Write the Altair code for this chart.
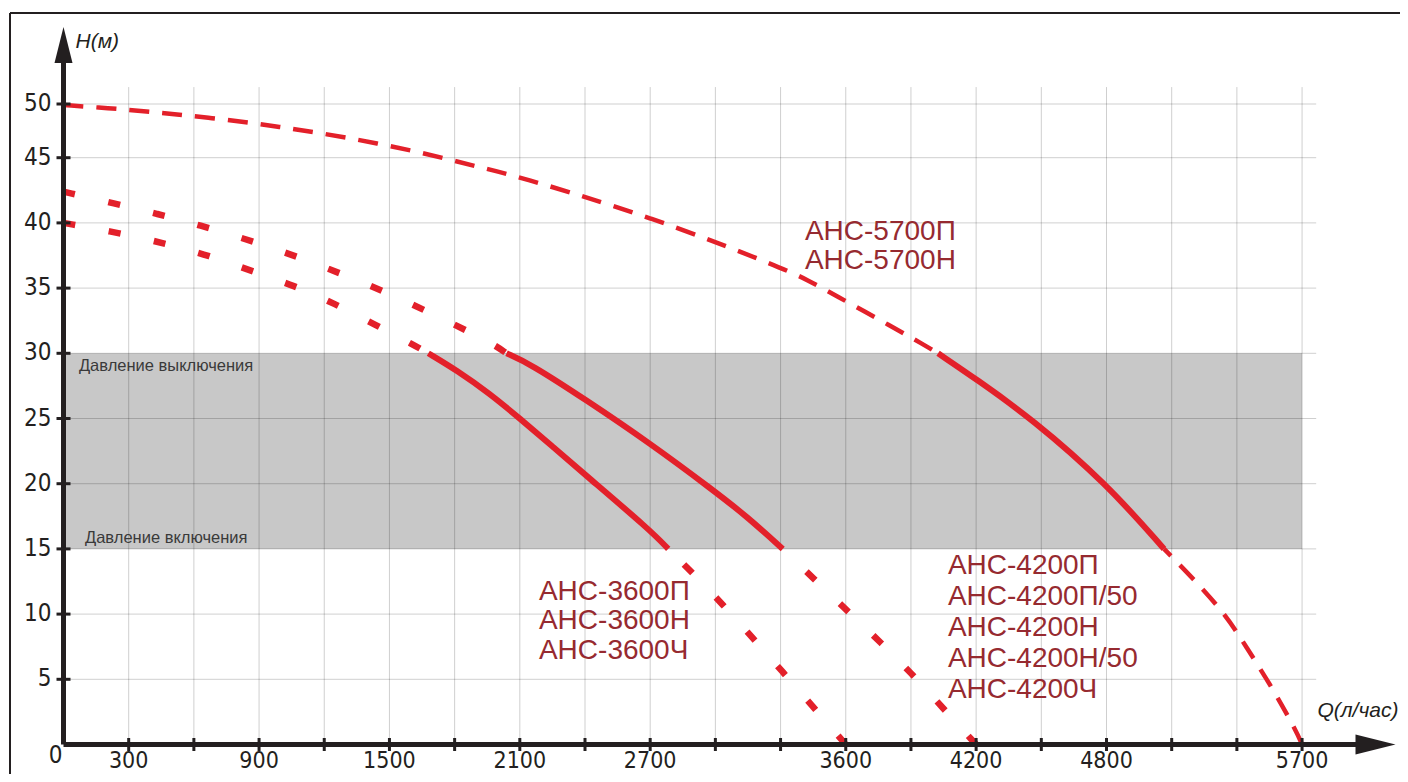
import altair as alt
import pandas as pd

# ---------------- data ----------------
X_TICKS = [300, 600, 900, 1200, 1500, 1800, 2100, 2400, 2700, 3000, 3300,
           3600, 3900, 4200, 4500, 4800, 5100, 5400, 5700]
X_LABELS = [300, 900, 1500, 2100, 2700, 3600, 4200, 4800, 5700]
Y_TICKS = [5, 10, 15, 20, 25, 30, 35, 40, 45, 50]

PRESSURE_ON = 15
PRESSURE_OFF = 30
Q_MAX = 5700

# АНС-5700
Q5700_UP = [0, 214, 367, 685, 993, 1300, 1617, 1916, 2070, 2700, 3320, 3426, 3541, 3817, 3955, 4025]
H5700_UP = [49.9, 49.6, 49.35, 48.7, 47.9, 46.9, 45.65, 44.26, 43.67, 40.5, 36.46, 35.6, 34.55, 32.0, 30.7, 30.0]
Q5700_SOLID = [4025, 4202, 4455, 4800, 5065]
H5700_SOLID = [30.0, 28.0, 25.0, 20.0, 15.0]
Q5700_LOW = [5065, 5329, 5446, 5565, 5671, 5700]
H5700_LOW = [15.0, 10.5, 7.4, 4.3, 1.1, 0.0]

# АНС-4200
Q4200_UP = [0, 232, 432, 631, 831, 1027, 1219, 1410, 1602, 1786, 1970, 2039]
H4200_UP = [42.4, 41.5, 40.7, 39.8, 38.8, 37.7, 36.5, 35.2, 33.8, 32.3, 30.8, 30.0]
Q4200_SOLID = [2039, 2147, 2407, 2699, 2990, 3144, 3310]
H4200_SOLID = [30.0, 29.2, 26.4, 23.1, 19.5, 17.5, 15.0]
Q4200_LOW = [3310, 3466, 3611, 3765, 3910, 4048, 4200]
H4200_LOW = [15.0, 12.5, 10.2, 7.76, 5.33, 2.78, 0.0]

# АНС-3600
Q3600_UP = [0, 268, 472, 671, 866, 1061, 1249, 1433, 1617, 1679]
H3600_UP = [40.0, 39.2, 38.4, 37.5, 36.3, 35.2, 33.8, 32.2, 30.6, 30.0]
Q3600_SOLID = [1679, 1809, 1962, 2100, 2254, 2407, 2699, 2783]
H3600_SOLID = [30.0, 28.7, 26.9, 25.0, 22.8, 20.6, 16.45, 15.0]
Q3600_LOW = [2783, 2890, 3036, 3174, 3309, 3443, 3600]
H3600_LOW = [15.0, 13.25, 10.7, 8.14, 5.58, 3.03, 0.0]

LABEL_5700 = "АНС-5700П\nАНС-5700Н"
LABEL_3600 = "АНС-3600П\nАНС-3600Н\nАНС-3600Ч"
LABEL_4200 = "АНС-4200П\nАНС-4200П/50\nАНС-4200Н\nАНС-4200Н/50\nАНС-4200Ч"
TEXT_OFF = "Давление выключения"
TEXT_ON = "Давление включения"

# ---------------- styling ----------------
RED = "#e3202a"
DARKRED = "#962a30"
INK = "#231f20"
NARROW = "Liberation Sans Narrow, Arial Narrow, DejaVu Sans Condensed, Liberation Sans"
SANS = "Liberation Sans, Arial, sans-serif"

XS = alt.Scale(domain=[0, 6130], nice=False, zero=False)
YS = alt.Scale(domain=[0, 45, 50, 55], range=[717.5, 130.7, 77, 0], nice=False, zero=False)


def seg(curve, part, qs, hs):
    df = pd.DataFrame({"Q": qs, "H": hs, "curve": curve, "part": part,
                       "seg": f"{curve}-{part}"})
    # lower dashed parts are drawn from the axis end so the dash pattern meets the axis
    df["ord"] = [-q for q in qs] if part == "low" else list(qs)
    return df


curves = pd.concat([
    seg("5700", "up", Q5700_UP, H5700_UP),
    seg("5700", "solid", Q5700_SOLID, H5700_SOLID),
    seg("5700", "low", Q5700_LOW, H5700_LOW),
    seg("4200", "up", Q4200_UP, H4200_UP),
    seg("4200", "solid", Q4200_SOLID, H4200_SOLID),
    seg("4200", "low", Q4200_LOW, H4200_LOW),
    seg("3600", "up", Q3600_UP, H3600_UP),
    seg("3600", "solid", Q3600_SOLID, H3600_SOLID),
    seg("3600", "low", Q3600_LOW, H3600_LOW),
], ignore_index=True)

band_df = pd.DataFrame({"q0": [0], "q1": [Q_MAX], "h0": [PRESSURE_ON], "h1": [PRESSURE_OFF]})
xt_df = pd.DataFrame({"Q": X_TICKS})
yt_df = pd.DataFrame({"H": Y_TICKS})
xl_df = pd.DataFrame({"Q": X_LABELS, "txt": [str(v) for v in X_LABELS]})
yl_df = pd.DataFrame({"H": Y_TICKS, "txt": [str(v) for v in Y_TICKS]})
one = alt.Data(values=[{}])


def X(field=None, datum=None):
    if datum is not None:
        return alt.X(datum=datum, scale=XS, axis=None)
    return alt.X(field, scale=XS, axis=None)


def Y(field=None, datum=None):
    if datum is not None:
        return alt.Y(datum=datum, scale=YS, axis=None)
    return alt.Y(field, scale=YS, axis=None)


band = alt.Chart(band_df).mark_rect(color="#c8c8c8").encode(
    x=X("q0:Q"), x2="q1:Q", y=Y("h0:Q"), y2="h1:Q")

vgrid = alt.Chart(xt_df).mark_rule(color="black", opacity=0.19, strokeWidth=1).encode(
    x=X("Q:Q"), y=Y(datum=0), y2=alt.datum(51.1))

hgrid = alt.Chart(yt_df).mark_rule(color="black", opacity=0.19, strokeWidth=1).encode(
    y=Y("H:Q"), x=X(datum=0), x2=alt.datum(5765))


def line_layer(data, **mk):
    return alt.Chart(data).mark_line(color=RED, interpolate="basis", strokeCap="butt", **mk).encode(
        x=X("Q:Q"), y=Y("H:Q"), detail="seg:N", order=alt.Order("ord:Q"))


dash_long = line_layer(curves[(curves.curve == "5700") & (curves.part != "solid")],
                       strokeWidth=4.5, strokeDash=[20, 13])
dash_short = line_layer(curves[(curves.curve != "5700") & (curves.part != "solid")],
                        strokeWidth=6.5, strokeDash=[12, 34])
solid = line_layer(curves[curves.part == "solid"], strokeWidth=6)


def text_at(txt, q, h, **mk):
    return alt.Chart(one).mark_text(text=txt, **mk).encode(x=X(datum=q), y=Y(datum=h))


lab5700 = text_at(LABEL_5700, 3412, 39.3, align="left", baseline="middle", lineBreak="\n",
                  lineHeight=29, font=SANS, fontSize=28, color=DARKRED)
lab3600 = text_at(LABEL_3600, 2188, 11.7, align="left", baseline="middle", lineBreak="\n",
                  lineHeight=29.5, font=SANS, fontSize=28, color=DARKRED)
lab4200 = text_at(LABEL_4200, 4070, 13.7, align="left", baseline="middle", lineBreak="\n",
                  lineHeight=31, font=SANS, fontSize=28, color=DARKRED)
lab_off = text_at(TEXT_OFF, 71, 29.0, align="left", baseline="middle", font=SANS,
                  fontSize=16.5, color="#3a3a3a")
lab_on = text_at(TEXT_ON, 99, 15.81, align="left", baseline="middle", font=SANS,
                 fontSize=16.5, color="#3a3a3a")

# axes drawn as arrows
yaxis_line = alt.Chart(one).mark_rule(color=INK, strokeWidth=5).encode(
    x=X(datum=0), y=Y(datum=0), y2=alt.datum(54))
xaxis_line = alt.Chart(one).mark_rule(color=INK, strokeWidth=5).encode(
    y=Y(datum=0), x=X(datum=0), x2=alt.datum(6000))
yarrow = alt.Chart(one).mark_point(shape="M0,0L0.5,2L-0.5,2Z", size=1296, filled=True,
                                   color=INK, opacity=1, strokeWidth=0).encode(
    x=X(datum=0), y=Y(datum=55))
xarrow = alt.Chart(one).mark_point(shape="M0,0L-2,-0.5L-2,0.5Z", size=1600, filled=True,
                                   color=INK, opacity=1, strokeWidth=0).encode(
    x=X(datum=6130), y=Y(datum=0))

xticks = alt.Chart(xt_df).mark_tick(orient="vertical", size=13, thickness=3, color=INK, opacity=1).encode(
    x=X("Q:Q"), y=Y(datum=0))
yticks = alt.Chart(yt_df).mark_tick(orient="horizontal", size=14, thickness=3, color=INK, opacity=1).encode(
    y=Y("H:Q"), x=X(datum=0))

xlabels = alt.Chart(xl_df).mark_text(align="center", baseline="alphabetic", dy=23, font=NARROW,
                                     fontSize=23, color=INK).encode(
    x=X("Q:Q"), y=Y(datum=0), text="txt:N")
ylabels = alt.Chart(yl_df).mark_text(align="right", baseline="middle", dx=-12, font=NARROW,
                                     fontSize=24, color=INK).encode(
    y=Y("H:Q"), x=X(datum=0), text="txt:N")

origin = text_at("0", 0, 0, align="center", baseline="middle", dx=-8, dy=11,
                 font=NARROW, fontSize=24, color=INK)
htitle = text_at("H(м)", 0, 55, align="left", baseline="middle", dx=12, dy=15,
                 font=SANS, fontSize=21, fontStyle="italic", color=INK)
qtitle = text_at("Q(л/час)", 6130, 0, align="right", baseline="middle", dx=3, dy=-34,
                 font=SANS, fontSize=21, fontStyle="italic", color=INK)

frame_top = alt.Chart(one).mark_rule(color=INK, strokeWidth=2).encode(
    x=alt.value(-53.5), x2=alt.value(1340), y=alt.value(-14))
frame_left = alt.Chart(one).mark_rule(color=INK, strokeWidth=2).encode(
    x=alt.value(-53.5), y=alt.value(-14), y2=alt.value(750))

chart = alt.layer(
    band, vgrid, hgrid, dash_long, dash_short, solid,
    lab5700, lab3600, lab4200, lab_off, lab_on,
    yaxis_line, xaxis_line, xticks, yticks, yarrow, xarrow,
    xlabels, ylabels, origin, htitle, qtitle, frame_top, frame_left,
).properties(
    width=1332, height=717.5,
    padding={"left": 55.5, "top": 19, "right": 4.5, "bottom": 29},
    autosize=alt.AutoSizeParams(type="none"),
    background="white",
).configure_view(stroke="transparent")

chart.save("out.html", embed_options={"renderer": "svg", "actions": False})
